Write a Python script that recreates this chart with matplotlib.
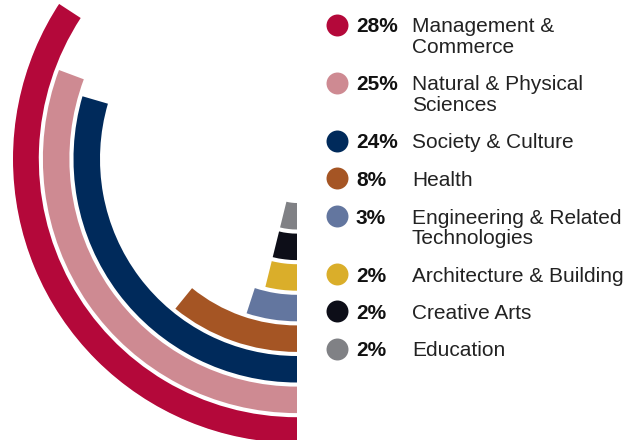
import matplotlib
matplotlib.use("Agg")
import matplotlib.pyplot as plt
import numpy as np

# data (outermost ring first)
categories = ["Management &\nCommerce", "Natural & Physical\nSciences", "Society & Culture",
              "Health", "Engineering & Related\nTechnologies", "Architecture & Building",
              "Creative Arts", "Education"]
shares = [28, 25, 24, 8, 3, 2, 2, 2]
colors = ["#B4083A", "#CE8A92", "#002A5B", "#A55524", "#63769F", "#DAAE2A", "#0D0E18", "#808185"]

W, H = 625, 440
fig = plt.figure(figsize=(W / 100, H / 100), dpi=100)

# radial bars, centre at pixel (297, 159), outer radius 284
cx, cy, R = 297, 159, 284
ax = fig.add_axes([(cx - R) / W, (H - cy - R) / H, 2 * R / W, 2 * R / H], projection="polar")
ax.set_theta_zero_location("S")
ax.set_theta_direction(-1)
ax.set_ylim(0, R)
ax.set_axis_off()

n = len(shares)
inner, pitch, thick = 44, 30.6, 26.5
for k, (v, c) in enumerate(zip(shares, colors)):
    theta = np.deg2rad(4.2 * v + 5.5)
    r0 = inner + pitch * (n - 1 - k)
    ax.bar(theta / 2, thick, width=theta, bottom=r0, color=c, linewidth=0)

# legend in pixel coords
lg = fig.add_axes([0, 0, 1, 1])
lg.set_xlim(0, W)
lg.set_ylim(H, 0)
lg.set_axis_off()
lg.patch.set_alpha(0)

y = 25
for v, name, c in zip(shares, categories, colors):
    lg.scatter([337], [y], s=250, color=c, linewidths=0)
    lg.text(356, y + 7.5, f"{v}%", fontsize=15, fontweight="bold", family="Liberation Sans",
            color="#111111", va="baseline", ha="left")
    lines = name.split("\n")
    for i, line in enumerate(lines):
        lg.text(412, y + 7.5 + 20.5 * i, line, fontsize=15, family="Liberation Sans",
                color="#222222", va="baseline", ha="left")
    y += 37.5 + 20.5 * (len(lines) - 1)

fig.savefig("out.png", dpi=100)
